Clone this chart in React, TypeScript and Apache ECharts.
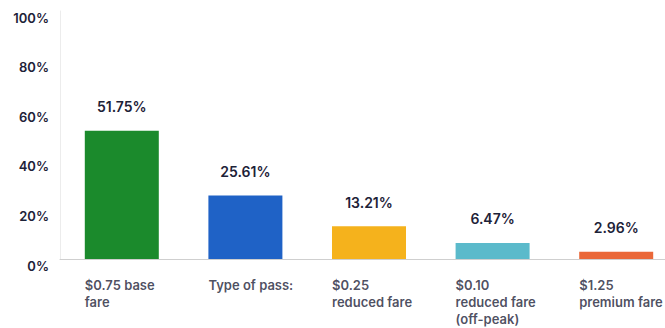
import React, { useEffect, useRef } from "react";
import * as echarts from "echarts";

const categories = [
  "$0.75 base\nfare",
  "Type of pass:",
  "$0.25\nreduced fare",
  "$0.10\nreduced fare\n(off-peak)",
  "$1.25\npremium fare",
];
const shares = [51.75, 25.61, 13.21, 6.47, 2.96];
const barColors = ["#1b8a2c", "#1f62c6", "#f5b21c", "#5bbacb", "#ea6839"];
const yTicks = [0, 20, 40, 60, 80, 100];

const FONT = "Inter, 'Noto Sans', sans-serif";
const TEXT = "#1d2238";

export default function App() {
  const ref = useRef<HTMLDivElement>(null);
  useEffect(() => {
    if (!ref.current) return;
    const chart = echarts.init(ref.current, undefined, { renderer: "svg" });
    chart.setOption({
      animation: false,
      backgroundColor: "#ffffff",
      grid: { left: 60, right: 0, top: 11, bottom: 69, containLabel: false },
      xAxis: {
        type: "category",
        data: categories,
        axisLine: { show: true, lineStyle: { color: "#cfcfcf", width: 1 } },
        axisTick: { show: false },
        axisLabel: { show: false },
        splitLine: { show: false },
      },
      yAxis: {
        type: "value",
        min: yTicks[0],
        max: yTicks[yTicks.length - 1],
        interval: 20,
        axisLine: { show: true, lineStyle: { color: "#ececec", width: 1 } },
        axisTick: { show: false },
        splitLine: { show: false },
        axisLabel: {
          formatter: (v: number) => v + "%",
          color: TEXT,
          fontFamily: FONT,
          fontSize: 13,
          fontWeight: 600,
          margin: 11,
          verticalAlign: "top",
        },
      },
      series: [
        {
          type: "bar",
          barWidth: 74,
          data: shares.map((v, i) => ({ value: v, itemStyle: { color: barColors[i] } })),
          label: {
            show: true,
            position: "top",
            distance: 17,
            formatter: (p: any) => p.value.toFixed(2) + "%",
            color: TEXT,
            fontFamily: FONT,
            fontSize: 14,
            fontWeight: 600,
          },
        },
        {
          type: "scatter",
          symbolSize: 0,
          clip: false,
          silent: true,
          data: categories.map(() => 0),
          label: {
            show: true,
            position: "bottom",
            distance: 17,
            offset: [-37, 0],
            align: "left",
            verticalAlign: "top",
            formatter: (p: any) => categories[p.dataIndex],
            color: TEXT,
            fontFamily: FONT,
            fontSize: 13,
            fontWeight: 600,
            lineHeight: 17,
          },
        },
      ],
    });
    return () => chart.dispose();
  }, []);
  return (
    <div
      ref={ref}
      style={{ position: "fixed", left: 0, top: 0, width: 678, height: 328, background: "#fff" }}
    />
  );
}
